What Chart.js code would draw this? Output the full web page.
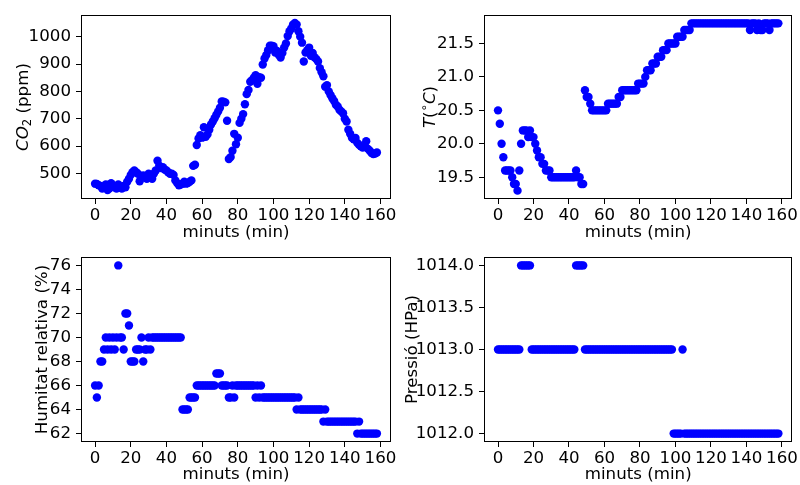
<!DOCTYPE html>
<html>
<head>
<meta charset="utf-8">
<script src="https://cdn.jsdelivr.net/npm/chart.js@4.4.0/dist/chart.umd.min.js"></script>
<style>
  body { margin: 0; background: #fff; }
  #fig { position: relative; width: 800px; height: 485px; }
  #fig canvas { position: absolute; }
</style>
</head>
<body>
<div id="fig">
  <canvas id="co2Chart" style="left:0;top:0;width:400px;height:242px" width="400" height="242"></canvas>
  <canvas id="tempChart" style="left:400px;top:0;width:400px;height:242px" width="400" height="242"></canvas>
  <canvas id="humChart" style="left:0;top:242px;width:400px;height:243px" width="400" height="243"></canvas>
  <canvas id="presChart" style="left:400px;top:242px;width:400px;height:243px" width="400" height="243"></canvas>
</div>
<script>
// sample times (min)
const minutes = [
  0,1,2,3,4,5,6,7,8,9, 10,11,12,13,14,15,16,17,18,19,
  20,21,22,23,24,25,26,27,28,29, 30,31,32,33,34,35,36,37,38,39,
  40,41,42,43,44,45,46,47,48,49, 50,51,52,53,54,55,56,57,58,59,
  60,61,62,63,64,65,66,67,68,69, 70,71,72,73,74,75,76,77,78,79,
  80,81,82,83,84,85,86,87,88,89, 90,91,92,93,94,95,96,97,98,99,
  100,101,102,103,104,105,106,107,108,109, 110,111,112,113,114,115,116,117,118,119,
  120,121,122,123,124,125,126,127,128,129, 130,131,132,133,134,135,136,137,138,139,
  140,141,142,143,144,145,146,147,148,149, 150,151,152,153,154,155,156,157,158
];

const co2 = [
  463,462,457,455,445,450,460,440,445,465,
  455,450,445,460,450,445,455,450,470,481,
  495,505,511,505,499,472,490,493,488,481,
  499,490,481,500,511,547,529,520,523,515,
  511,505,499,499,495,475,465,457,460,463,
  470,463,465,470,475,528,532,604,628,640,
  631,669,634,643,660,679,690,702,715,727,
  740,763,762,760,693,553,560,583,645,607,
  631,685,700,717,753,790,805,835,841,850,
  859,828,852,850,898,920,933,950,967,967,
  965,942,948,933,924,940,960,975,1002,1020,
  1030,1044,1050,1044,1020,1000,978,909,942,950,
  960,930,940,925,918,909,885,870,855,817,
  823,800,787,775,765,751,745,733,727,720,
  700,690,660,645,631,625,630,612,605,600,
  595,600,618,590,583,575,571,573,577
];

const temperature = [
  20.5,20.3,20.0,19.8,19.6,19.6,19.6,19.6,19.5,19.4,
  19.4,19.3,19.6,20.0,20.2,20.2,20.2,20.1,20.2,20.1,
  20.1,20.0,19.9,19.8,19.8,19.7,19.7,19.6,19.6,19.6,
  19.5,19.5,19.5,19.5,19.5,19.5,19.5,19.5,19.5,19.5,
  19.5,19.5,19.5,19.5,19.6,19.5,19.5,19.4,19.4,20.8,
  20.7,20.7,20.6,20.5,20.5,20.5,20.5,20.5,20.5,20.5,
  20.5,20.5,20.6,20.6,20.6,20.6,20.6,20.6,20.7,20.7,
  20.8,20.8,20.8,20.8,20.8,20.8,20.8,20.8,20.8,20.9,
  20.9,20.9,20.9,21.0,21.1,21.1,21.1,21.2,21.2,21.2,
  21.3,21.3,21.3,21.4,21.4,21.4,21.5,21.5,21.5,21.5,
  21.5,21.6,21.6,21.6,21.6,21.7,21.7,21.7,21.7,21.8,
  21.8,21.8,21.8,21.8,21.8,21.8,21.8,21.8,21.8,21.8,
  21.8,21.8,21.8,21.8,21.8,21.8,21.8,21.8,21.8,21.8,
  21.8,21.8,21.8,21.8,21.8,21.8,21.8,21.8,21.8,21.8,
  21.8,21.8,21.7,21.8,21.8,21.8,21.7,21.8,21.7,21.7,
  21.8,21.8,21.8,21.7,21.8,21.8,21.8,21.8,21.8
];

const humidity = [
  66,65,66,68,68,69,70,69,70,69,
  70,69,70,76,70,70,69,72,72,71,
  68,68,68,69,69,69,70,68,69,69,
  70,69,70,70,70,70,70,70,70,70,
  70,70,70,70,70,70,70,70,70,64,
  64,64,64,65,65,65,65,66,66,66,
  66,66,66,66,66,66,66,66,67,67,
  67,66,66,66,66,65,65,66,65,66,
  66,66,66,66,66,66,66,66,66,66,
  65,66,65,66,65,65,65,65,65,65,
  65,65,65,65,65,65,65,65,65,65,
  65,65,65,64,65,64,64,64,64,64,
  64,64,64,64,64,64,64,64,63,64,
  63,63,63,63,63,63,63,63,63,63,
  63,63,63,63,63,63,63,62,63,62,
  62,62,62,62,62,62,62,62,62
];

const pressure = [
  1013,1013,1013,1013,1013,1013,1013,1013,1013,1013,
  1013,1013,1013,1014,1014,1014,1014,1014,1014,1013,
  1013,1013,1013,1013,1013,1013,1013,1013,1013,1013,
  1013,1013,1013,1013,1013,1013,1013,1013,1013,1013,
  1013,1013,1013,1013,1014,1014,1014,1014,1014,1013,
  1013,1013,1013,1013,1013,1013,1013,1013,1013,1013,
  1013,1013,1013,1013,1013,1013,1013,1013,1013,1013,
  1013,1013,1013,1013,1013,1013,1013,1013,1013,1013,
  1013,1013,1013,1013,1013,1013,1013,1013,1013,1013,
  1013,1013,1013,1013,1013,1013,1013,1013,1013,1012,
  1012,1012,1012,1012,1013,1012,1012,1012,1012,1012,
  1012,1012,1012,1012,1012,1012,1012,1012,1012,1012,
  1012,1012,1012,1012,1012,1012,1012,1012,1012,1012,
  1012,1012,1012,1012,1012,1012,1012,1012,1012,1012,
  1012,1012,1012,1012,1012,1012,1012,1012,1012,1012,
  1012,1012,1012,1012,1012,1012,1012,1012,1012
];

// tick labels
const minuteTicks = [0, 20, 40, 60, 80, 100, 120, 140, 160];
const co2Ticks = [500, 600, 700, 800, 900, 1000];
const tempTicks = [19.5, 20.0, 20.5, 21.0, 21.5];
const humTicks = [62, 64, 66, 68, 70, 72, 74, 76];
const presTicks = [1012.0, 1012.5, 1013.0, 1013.5, 1014.0];

const FONT = 'DejaVu Sans';
const FS = 16.67;

// frame + axis titles (mathtext-like y labels)
const axisTitles = {
  id: 'axisTitles',
  afterDraw(chart, args, o) {
    const { ctx, chartArea: a } = chart;
    ctx.save();
    ctx.strokeStyle = '#000';
    ctx.lineWidth = 1;
    ctx.strokeRect(Math.round(a.left) + 0.5, Math.round(a.top) + 0.5,
      Math.round(a.right - a.left) - 1, Math.round(a.bottom - a.top) - 1);

    ctx.fillStyle = '#000';
    ctx.textAlign = 'center';
    ctx.textBaseline = 'middle';
    ctx.font = `${FS}px "${FONT}"`;
    ctx.fillText(o.xTitle, (a.left + a.right) / 2, a.bottom + o.xGap);

    ctx.translate(o.yX, (a.top + a.bottom) / 2);
    ctx.rotate(-Math.PI / 2);
    ctx.textAlign = 'left';
    ctx.textBaseline = 'alphabetic';
    const fontOf = p => `${p.i ? 'italic ' : ''}${(p.sub || p.sup) ? FS * 0.7 : FS}px "${FONT}"`;
    let total = 0;
    o.yParts.forEach(p => { ctx.font = fontOf(p); total += ctx.measureText(p.t).width; });
    let x = -total / 2;
    o.yParts.forEach(p => {
      ctx.font = fontOf(p);
      let dy = FS * 0.36;
      if (p.sub) dy += FS * 0.2;
      if (p.sup) dy -= FS * 0.4;
      ctx.fillText(p.t, x, dy);
      x += ctx.measureText(p.t).width;
    });
    ctx.restore();
  }
};

function makeChart(id, values, cfg) {
  const points = minutes.map((m, i) => ({ x: m, y: values[i] }));
  const tickFont = { family: FONT, size: FS };
  const grid = { display: true, drawOnChartArea: false, drawTicks: true, tickLength: 5, color: '#000', lineWidth: 1 };
  return new Chart(document.getElementById(id), {
    type: 'scatter',
    data: {
      datasets: [{
        data: points,
        backgroundColor: '#0000ff',
        borderWidth: 0,
        pointRadius: 4.2,
        pointHoverRadius: 4.2
      }]
    },
    options: {
      responsive: false,
      animation: false,
      devicePixelRatio: 1,
      layout: { padding: cfg.padding },
      plugins: {
        legend: { display: false },
        tooltip: { enabled: false },
        axisTitles: { xTitle: 'minuts (min)', xGap: cfg.xGap, yX: cfg.yX, yParts: cfg.yParts }
      },
      scales: {
        x: {
          type: 'linear', min: -7.9, max: 165.9,
          afterBuildTicks: s => { s.ticks = minuteTicks.map(v => ({ value: v })); },
          afterFit: s => { s.height = cfg.xHeight; },
          grid: grid,
          border: { display: false },
          ticks: { font: tickFont, color: '#000', padding: 2, maxRotation: 0, autoSkip: false }
        },
        y: {
          type: 'linear', min: cfg.yMin, max: cfg.yMax,
          afterBuildTicks: s => { s.ticks = cfg.yTicks.map(v => ({ value: v })); },
          afterFit: s => { s.width = cfg.yWidth; },
          grid: grid,
          border: { display: false },
          ticks: { font: tickFont, color: '#000', padding: 5, autoSkip: false, callback: cfg.fmt }
        }
      }
    },
    plugins: [axisTitles]
  });
}

makeChart('co2Chart', co2, {
  padding: { left: 0, top: 12, right: 9, bottom: 0 },
  yWidth: 81, xHeight: 43, xGap: 34, yX: 22,
  yMin: 407, yMax: 1079, yTicks: co2Ticks, fmt: v => String(v),
  yParts: [{ t: 'CO', i: true }, { t: '2', sub: true }, { t: ' (ppm)' }]
});

makeChart('tempChart', temperature, {
  padding: { left: 0, top: 12, right: 6, bottom: 0 },
  yWidth: 84, xHeight: 43, xGap: 34, yX: 29,
  yMin: 19.175, yMax: 21.925, yTicks: tempTicks, fmt: v => v.toFixed(1),
  yParts: [{ t: 'T', i: true }, { t: '(' }, { t: '∘', sup: true }, { t: 'C', i: true }, { t: ')' }]
});

makeChart('humChart', humidity, {
  padding: { left: 0, top: 14, right: 9, bottom: 0 },
  yWidth: 81, xHeight: 43, xGap: 33, yX: 41,
  yMin: 61.3, yMax: 76.7, yTicks: humTicks, fmt: v => String(v),
  yParts: [{ t: 'Humitat relativa (%)' }]
});

makeChart('presChart', pressure, {
  padding: { left: 0, top: 14, right: 5, bottom: 0 },
  yWidth: 84, xHeight: 43, xGap: 33, yX: 11,
  yMin: 1011.9, yMax: 1014.1, yTicks: presTicks, fmt: v => v.toFixed(1),
  yParts: [{ t: 'Pressió (HPa)' }]
});
</script>
</body>
</html>
